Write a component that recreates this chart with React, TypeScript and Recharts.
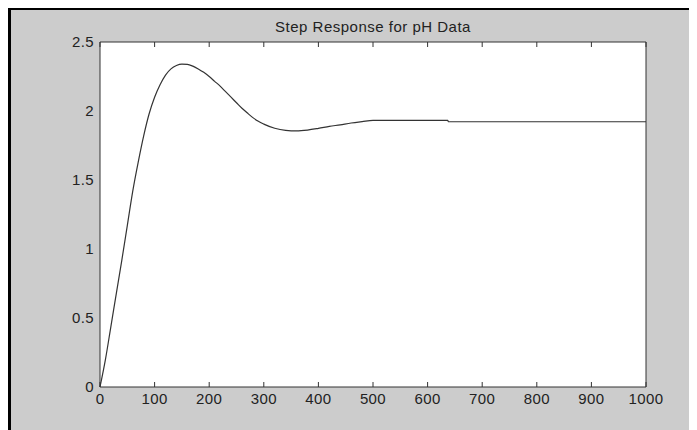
import React from 'react';
import { LineChart, Line, XAxis, YAxis, CartesianGrid } from 'recharts';

const times = [0, 10, 20, 30, 40, 50, 60, 70, 80, 90, 100, 110, 120, 130, 140, 150, 160, 170, 180, 190, 200, 210, 220, 230, 240, 250, 260, 270, 280, 290, 300, 320, 340, 360, 380, 400, 420, 440, 460, 480, 500, 637, 638, 1000];
const response = [0, 0.2, 0.44, 0.68, 0.92, 1.17, 1.42, 1.63, 1.82, 1.98, 2.1, 2.19, 2.26, 2.305, 2.33, 2.34, 2.338, 2.325, 2.305, 2.28, 2.25, 2.215, 2.18, 2.14, 2.1, 2.06, 2.02, 1.985, 1.952, 1.925, 1.905, 1.875, 1.86, 1.856, 1.862, 1.874, 1.888, 1.9, 1.913, 1.923, 1.932, 1.932, 1.922, 1.922];

const xTicks = [0, 100, 200, 300, 400, 500, 600, 700, 800, 900, 1000];
const yTicks = [0, 0.5, 1, 1.5, 2, 2.5];
const title = 'Step Response for pH Data';

const data = times.map((t, i) => ({ t, y: response[i] }));

const axisColor = '#333333';
const fontFamily = '"Liberation Sans", Arial, sans-serif';
const textStyle = { fill: '#222222', fontSize: 15, fontFamily, letterSpacing: 0.4 };
const noLabel = () => <g />;

export default function App() {
  return (
    <div
      style={{
        position: 'relative',
        width: 686,
        height: 420,
        marginTop: -1,
        borderTop: '3px solid #000',
        borderLeft: '3px solid #000',
        background: '#cccccc',
        fontFamily,
      }}
    >
      <div
        style={{
          position: 'absolute',
          top: 8,
          left: 89,
          width: 546,
          textAlign: 'center',
          fontSize: 15,
          lineHeight: '17px',
          letterSpacing: 0.5,
          color: '#222222',
        }}
      >
        {title}
      </div>
      <LineChart width={686} height={420} data={data} margin={{ top: 32, right: 51, bottom: 13, left: 29 }}>
        <CartesianGrid horizontal={false} vertical={false} fill="#ffffff" />
        <XAxis
          dataKey="t"
          type="number"
          domain={[0, 1000]}
          ticks={xTicks}
          height={30}
          tickMargin={4}
          tickSize={2}
          interval={0}
          axisLine={{ stroke: axisColor }}
          tickLine={false}
          tick={textStyle}
        />
        <XAxis
          xAxisId="bticks"
          dataKey="t"
          orientation="bottom"
          mirror
          type="number"
          domain={[0, 1000]}
          ticks={xTicks}
          height={10}
          tickSize={5}
          interval={0}
          axisLine={false}
          tickLine={{ stroke: axisColor }}
          tick={noLabel}
        />
        <XAxis
          xAxisId="top"
          dataKey="t"
          orientation="top"
          mirror
          type="number"
          domain={[0, 1000]}
          ticks={xTicks}
          height={10}
          tickSize={5}
          interval={0}
          axisLine={{ stroke: axisColor }}
          tickLine={{ stroke: axisColor }}
          tick={noLabel}
        />
        <YAxis
          type="number"
          domain={[0, 2.5]}
          ticks={yTicks}
          width={60}
          tickSize={2}
          tickMargin={4}
          interval={0}
          axisLine={{ stroke: axisColor }}
          tickLine={false}
          tick={textStyle}
        />
        <YAxis
          yAxisId="lticks"
          orientation="left"
          mirror
          type="number"
          domain={[0, 2.5]}
          ticks={yTicks}
          width={10}
          tickSize={5}
          interval={0}
          axisLine={false}
          tickLine={{ stroke: axisColor }}
          tick={noLabel}
        />
        <YAxis
          yAxisId="right"
          orientation="right"
          mirror
          type="number"
          domain={[0, 2.5]}
          ticks={yTicks}
          width={10}
          tickSize={5}
          interval={0}
          axisLine={{ stroke: axisColor }}
          tickLine={{ stroke: axisColor }}
          tick={noLabel}
        />
        <Line
          type="monotone"
          dataKey="y"
          stroke="#333333"
          strokeWidth={1.2}
          dot={false}
          isAnimationActive={false}
        />
      </LineChart>
    </div>
  );
}
